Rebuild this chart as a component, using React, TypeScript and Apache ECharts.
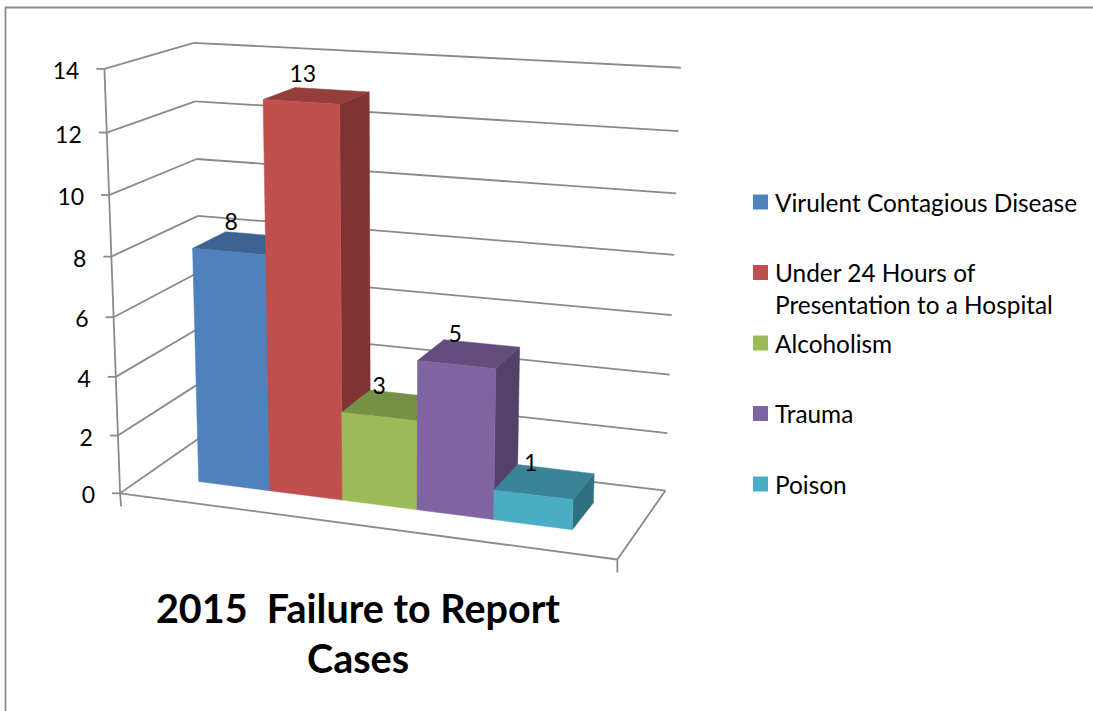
import React, { useEffect, useRef } from "react";
import * as echarts from "echarts";

const categories = ["Virulent Contagious Disease", "Under 24 Hours of Presentation to a Hospital", "Alcoholism", "Trauma", "Poison"];
const values = [8, 13, 3, 5, 1];
const tickValues = [0, 2, 4, 6, 8, 10, 12, 14];
const frontColors = ["#4F81BD", "#C0504D", "#9BBB59", "#8064A2", "#4BACC6"];
const titleText = "2015  Failure to Report\nCases";

// Perspective camera of the 3D box: (u, v, depth), each 0..1, to page pixels.
const cam = [446.4801, -21.3316, 101.0781, 120.0977, 20.167, -428.125, -21.0532, 493.3311, -0.082245, -0.054232, 0.08575];
const project = (u: number, v: number, w: number): number[] => {
  const d = cam[8] * u + cam[9] * v + cam[10] * w + 1;
  return [(cam[0] * u + cam[1] * v + cam[2] * w + cam[3]) / d, (cam[4] * u + cam[5] * v + cam[6] * w + cam[7]) / d];
};

const FONT = "Lato";
const LINE = "#8a8a8a";
const shade = (hex: string, f: number) => {
  const n = parseInt(hex.slice(1), 16);
  return `rgb(${Math.round((n >> 16) * f)},${Math.round(((n >> 8) & 255) * f)},${Math.round((n & 255) * f)})`;
};
const DEPTH_FRONT = 0.3, DEPTH_BACK = 0.7;

const toUnit = (params: any, pt: number[]) => {
  const c = params.coordSys;
  return [(pt[0] - c.x) / c.width, (c.y + c.height - pt[1]) / c.height];
};
const seg = (a: number[], b: number[]) => ({
  type: "line",
  shape: { x1: a[0], y1: a[1], x2: b[0], y2: b[1] },
  style: { stroke: LINE, lineWidth: 1.8, fill: "none" },
});

function renderFrame(params: any, api: any) {
  const val = api.value(1);
  const [, v] = toUnit(params, api.coord([0, val]));
  const f = project(0, v, 0), b = project(0, v, 1), r = project(1, v, 1);
  const kids: any[] = [
    seg([f[0] - 8, f[1]], f), seg(f, b), seg(b, r),
    { type: "text", style: { text: String(val), x: f[0] - 25, y: f[1] + 1, align: "right", verticalAlign: "middle", fontFamily: FONT, fontSize: 23, fill: "#000" } },
  ];
  if (val === 0) {
    const g = project(1, 0, 0), t = project(0, 1, 0);
    kids.push(seg(f, t), seg(f, g), seg(g, r), seg(f, [f[0] + 1, f[1] + 13]), seg(g, [g[0], g[1] + 13]));
  }
  return { type: "group", children: kids };
}

function renderBar(params: any, api: any) {
  const i = api.value(0), val = api.value(1);
  const [u0, v0] = toUnit(params, api.coord([i, 0]));
  const [u1, v1] = toUnit(params, api.coord([i + 1, val]));
  const c = frontColors[i];
  const P = project;
  const poly = (pts: number[][], fill: string) => ({ type: "polygon", shape: { points: pts }, style: { fill, stroke: fill, lineWidth: 0.5 } });
  const top = poly([P(u0, v1, DEPTH_FRONT), P(u1, v1, DEPTH_FRONT), P(u1, v1, DEPTH_BACK), P(u0, v1, DEPTH_BACK)], shade(c, 0.77));
  const side = poly([P(u1, v0, DEPTH_FRONT), P(u1, v1, DEPTH_FRONT), P(u1, v1, DEPTH_BACK), P(u1, v0, DEPTH_BACK)], shade(c, 0.65));
  const front = poly([P(u0, v0, DEPTH_FRONT), P(u1, v0, DEPTH_FRONT), P(u1, v1, DEPTH_FRONT), P(u0, v1, DEPTH_FRONT)], c);
  const m = P((u0 + u1) / 2, v1, (DEPTH_FRONT + DEPTH_BACK) / 2);
  const label = { type: "text", z2: 10, style: { text: String(val), x: m[0] - 14, y: m[1] - 19.5 - 3.5 * v1, align: "center", verticalAlign: "middle", fontFamily: FONT, fontSize: 23, fill: "#000" } };
  return { type: "group", children: [side, top, front, label] };
}

export default function App() {
  const ref = useRef<HTMLDivElement>(null);
  useEffect(() => {
    const chart = echarts.init(ref.current!, undefined, { renderer: "svg" });
    chart.setOption({
      animation: false,
      backgroundColor: "#fff",
      grid: { left: 104, top: 69, width: 500, height: 424 },
      xAxis: { type: "value", min: -0.75, max: 5.75, show: false },
      yAxis: { type: "value", min: 0, max: 14, show: false },
      title: { text: titleText, left: 358, top: 582, padding: 0, textAlign: "center", textStyle: { fontFamily: FONT, fontWeight: "bold", fontSize: 39.5, lineHeight: 50, color: "#000" } },
      legend: {
        orient: "vertical", left: 753, top: 190, padding: 0, itemWidth: 15, itemHeight: 15, itemGap: 46.5, icon: "rect", selectedMode: false,
        data: categories,
        formatter: (n: string) => (n.startsWith("Under") ? "Under 24 Hours of" : n),
        textStyle: { fontFamily: FONT, fontSize: 24.4, color: "#000", padding: [0, 0, 2, 2] },
      },
      graphic: [
        { type: "polyline", shape: { points: [[5.5, 711], [5.5, 7.5], [1093, 7.5]] }, style: { stroke: LINE, lineWidth: 1.8, fill: "none" }, silent: true },
        { type: "text", x: 775, y: 304, style: { text: "Presentation to a Hospital", fontFamily: FONT, fontSize: 24.4, fill: "#000", verticalAlign: "middle" } },
      ],
      series: [
        { type: "custom", name: "frame", coordinateSystem: "cartesian2d", renderItem: renderFrame, encode: { x: 0, y: 1 }, silent: true, data: tickValues.map((t) => [0, t]) },
        ...categories.map((name, i) => ({
          type: "custom", name, coordinateSystem: "cartesian2d", renderItem: renderBar, encode: { x: 0, y: 1 },
          itemStyle: { color: frontColors[i] }, data: [[i, values[i]]],
        })),
      ],
    });
    return () => chart.dispose();
  }, []);
  return <div ref={ref} style={{ position: "fixed", left: 0, top: 0, width: 1093, height: 711 }} />;
}
